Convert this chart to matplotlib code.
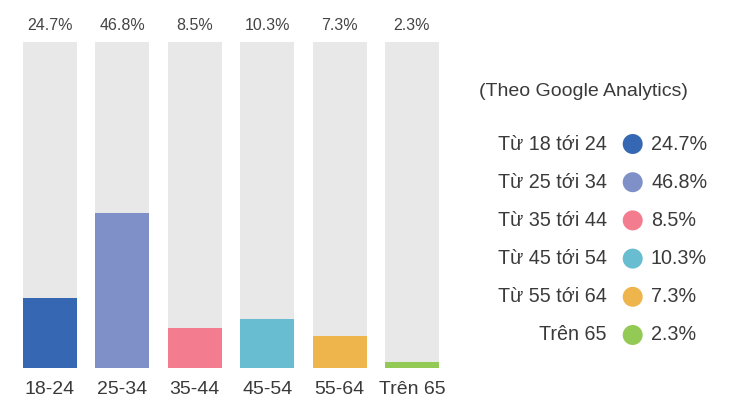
import matplotlib.pyplot as plt

plt.rcParams['font.family'] = ['Liberation Sans', 'DejaVu Sans']

# data
age_groups = ['18-24', '25-34', '35-44', '45-54', '55-64', 'Trên 65']
legend_labels = ['Từ 18 tới 24', 'Từ 25 tới 34', 'Từ 35 tới 44',
                 'Từ 45 tới 54', 'Từ 55 tới 64', 'Trên 65']
shares = [24.7, 46.8, 8.5, 10.3, 7.3, 2.3]
# filled part of each grey track, in % of the track (as drawn in the picture)
bar_fill = [21.5, 47.5, 12.3, 15.0, 9.8, 1.8]
colors = ['#3567b3', '#7f8fc8', '#f37c8f', '#69bdd0', '#efb54d', '#93c955']
track_color = '#e8e8e8'
text_color = '#3a3a3a'

fig = plt.figure(figsize=(7.32, 4), dpi=100)

# bars
ax = fig.add_axes([13.8 / 732, 32 / 400, 434.4 / 732, 326 / 400])
x = range(len(age_groups))
ax.bar(x, [100] * len(x), width=0.746, color=track_color)
ax.bar(x, bar_fill, width=0.746, color=colors)
for i, v in enumerate(shares):
    ax.annotate(f'{v}%', (i, 100), xytext=(0, 12), textcoords='offset points',
                ha='center', va='center', fontsize=11.5, color='#444444')
ax.set_xlim(-0.5, len(age_groups) - 0.5)
ax.set_ylim(0, 100)
ax.set_xticks(list(x))
ax.set_xticklabels(age_groups, fontsize=14, color=text_color)
ax.tick_params(axis='x', length=0, pad=9)
ax.set_yticks([])
for s in ax.spines.values():
    s.set_visible(False)

# legend on the right
lg = fig.add_axes([470 / 732, (400 - 354.1) / 400, 262 / 732, 229.2 / 400])
lg.set_xlim(0, 262)
lg.set_ylim(len(legend_labels) - 0.5, -0.5)
lg.axis('off')
rows = list(range(len(legend_labels)))
lg.scatter([162.7] * len(rows), rows, s=207, color=colors, linewidths=0)
for i, (lab, v) in enumerate(zip(legend_labels, shares)):
    lg.text(136.7, i, lab, ha='right', va='center', fontsize=14.2, color=text_color)
    lg.text(181, i, f'{v}%', ha='left', va='center', fontsize=14.2, color=text_color)

fig.text(479 / 732, 1 - 92 / 400, '(Theo Google Analytics)', ha='left',
         va='center', fontsize=14, color=text_color)

fig.savefig('out.png', dpi=100)
